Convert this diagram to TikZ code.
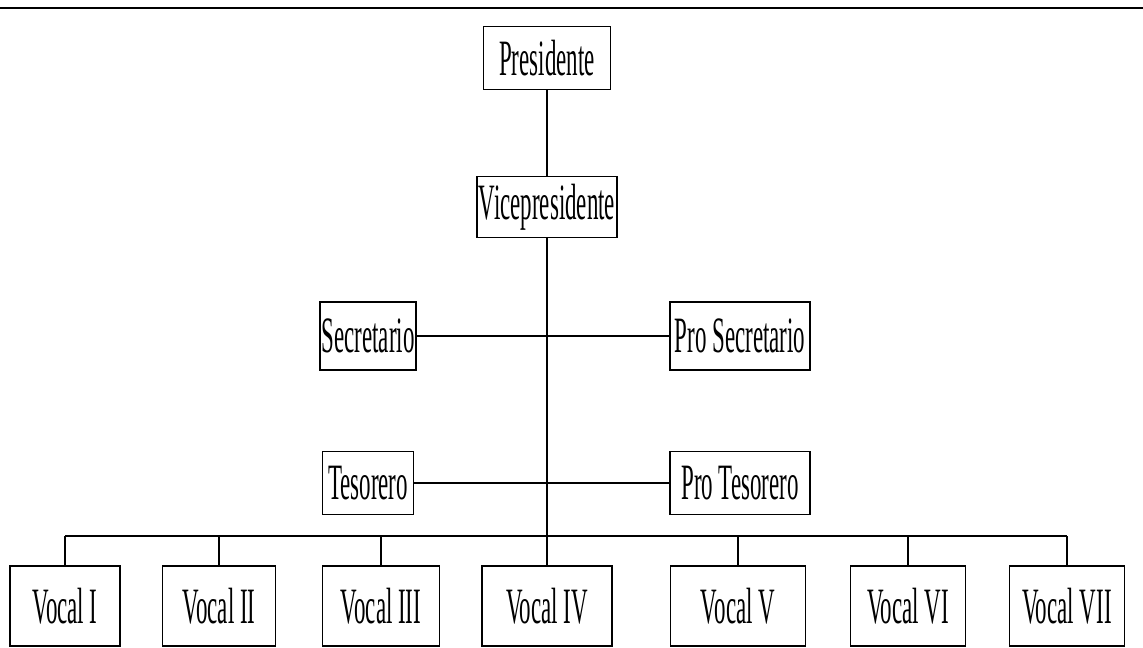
\documentclass[tikz,border=0pt]{standalone}
\usepackage{fontspec}
\setmainfont{Liberation Serif}[FakeStretch=0.45]
\usetikzlibrary{positioning}

\begin{document}
\begin{tikzpicture}[x=0.02cm,y=-0.02cm,
  every node/.style={draw,line width=1.1pt,inner sep=1pt,minimum height=63*0.02cm,font=\fontsize{29}{31}\selectfont},
  link/.style={line width=1.3pt},
  stem/.style={line width=0.7pt}]
\useasboundingbox (0,0) rectangle (1143,648);
\draw[line width=1pt] (0,8) -- (1143,8);
\node[minimum width=127*0.02cm] (pres) at (547,58) {Presidente};
\node[minimum width=135*0.02cm,minimum height=61*0.02cm] (vice) at (547,207) {Vicepresidente};
\node[minimum width=91*0.02cm,minimum height=68*0.02cm] (sec) at (368,336) {Secretario};
\node[minimum width=140*0.02cm,minimum height=68*0.02cm] (prosec) at (740,336) {Pro Secretario};
\node[minimum width=91*0.02cm] (tes) at (368,483) {Tesorero};
\node[minimum width=140*0.02cm] (protes) at (740,483) {Pro Tesorero};
\node[minimum width=110*0.02cm,minimum height=80*0.02cm] (v1) at (65,606) {Vocal I};
\node[minimum width=113*0.02cm,minimum height=80*0.02cm] (v2) at (219,606) {Vocal II};
\node[minimum width=117*0.02cm,minimum height=80*0.02cm] (v3) at (381,606) {Vocal III};
\node[minimum width=130*0.02cm,minimum height=80*0.02cm] (v4) at (547,606) {Vocal IV};
\node[minimum width=135*0.02cm,minimum height=80*0.02cm] (v5) at (738,606) {Vocal V};
\node[minimum width=115*0.02cm,minimum height=80*0.02cm] (v6) at (908,606) {Vocal VI};
\node[minimum width=115*0.02cm,minimum height=80*0.02cm] (v7) at (1067,606) {Vocal VII};
% lines
\draw[stem] (pres.south) -- (vice.north);
\draw[stem] (vice.south) -- (v4.north);
\draw[link] (sec.east) -- (prosec.west);
\draw[link] (tes.east) -- (protes.west);
\coordinate (busL) at (65,536);
\coordinate (busR) at (1067,536);
\draw[link] (busL) -- (busR);
\draw[stem] (busL) -- (v1.north);
\draw[stem] (v2.north |- busL) -- (v2.north);
\draw[stem] (v3.north |- busL) -- (v3.north);
\draw[stem] (v5.north |- busL) -- (v5.north);
\draw[stem] (v6.north |- busL) -- (v6.north);
\draw[stem] (busR) -- (v7.north);
\end{tikzpicture}
\end{document}
